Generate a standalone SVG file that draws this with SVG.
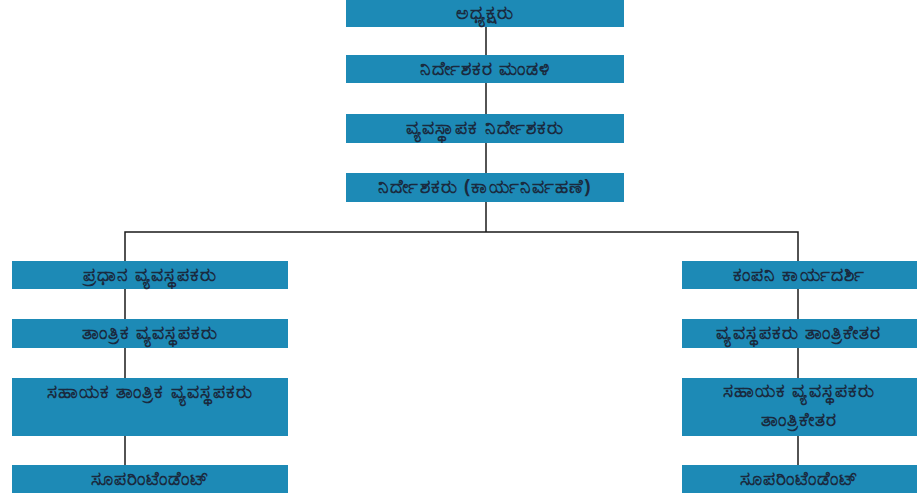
<svg xmlns="http://www.w3.org/2000/svg" width="921" height="499" viewBox="0 0 921 499">
<style>
.box{fill:#1d8ab6;}
.t{font-family:"Noto Sans","DejaVu Sans","Liberation Sans",sans-serif;font-size:19px;letter-spacing:1.1px;font-weight:bold;fill:#1a2a3f;text-anchor:middle;}
.c{stroke:#1a1a1a;stroke-width:1.5;fill:none;}
</style>
<rect width="921" height="499" fill="#ffffff"/>
<g id="connectors">
<line class="c" x1="486" y1="27" x2="486" y2="232"/>
<polyline class="c" points="125,261 125,232 798,232 798,261"/>
<line class="c" x1="125" y1="289" x2="125" y2="465"/>
<line class="c" x1="798" y1="289" x2="798" y2="465"/>
</g>
<g id="n1"><rect class="box" x="346" y="0" width="278" height="27"/><text class="t" x="485" y="19">ಅಧ್ಯಕ್ಷರು</text></g>
<g id="n2"><rect class="box" x="346" y="55" width="278" height="28"/><text class="t" x="485" y="75">ನಿರ್ದೇಶಕರ ಮಂಡಳಿ</text></g>
<g id="n3"><rect class="box" x="346" y="114" width="278" height="29"/><text class="t" x="485" y="134">ವ್ಯವಸ್ಥಾಪಕ ನಿರ್ದೇಶಕರು</text></g>
<g id="n4"><rect class="box" x="346" y="173" width="278" height="29"/><text class="t" x="485" y="193">ನಿರ್ದೇಶಕರು (ಕಾರ್ಯನಿರ್ವಹಣೆ)</text></g>
<g id="l1"><rect class="box" x="12" y="261" width="276" height="28"/><text class="t" x="150" y="281">ಪ್ರಧಾನ ವ್ಯವಸ್ಥಪಕರು</text></g>
<g id="l2"><rect class="box" x="12" y="319" width="276" height="29"/><text class="t" x="150" y="339">ತಾಂತ್ರಿಕ ವ್ಯವಸ್ಥಪಕರು</text></g>
<g id="l3"><rect class="box" x="12" y="378" width="276" height="58"/><text class="t" x="150" y="398">ಸಹಾಯಕ ತಾಂತ್ರಿಕ ವ್ಯವಸ್ಥಪಕರು</text></g>
<g id="l4"><rect class="box" x="12" y="465" width="276" height="28"/><text class="t" x="150" y="485">ಸೂಪರಿಂಟೆಂಡೆಂಟ್</text></g>
<g id="r1"><rect class="box" x="682" y="261" width="235" height="28"/><text class="t" x="799" y="281">ಕಂಪನಿ ಕಾರ್ಯದರ್ಶಿ</text></g>
<g id="r2"><rect class="box" x="682" y="319" width="235" height="29"/><text class="t" x="799" y="339">ವ್ಯವಸ್ಥಪಕರು ತಾಂತ್ರಿಕೇತರ</text></g>
<g id="r3"><rect class="box" x="682" y="378" width="235" height="58"/><text class="t" x="799" y="397">ಸಹಾಯಕ ವ್ಯವಸ್ಥಪಕರು</text><text class="t" x="799" y="426">ತಾಂತ್ರಿಕೇತರ</text></g>
<g id="r4"><rect class="box" x="682" y="465" width="235" height="28"/><text class="t" x="799" y="485">ಸೂಪರಿಂಟೆಂಡೆಂಟ್</text></g>
</svg>
